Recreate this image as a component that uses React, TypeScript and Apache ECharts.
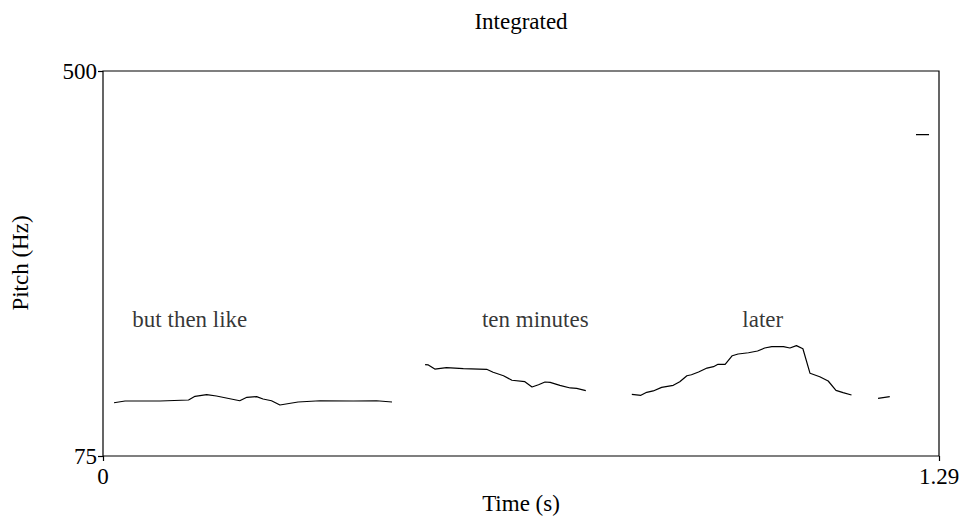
import React, { useEffect, useRef } from "react";
import * as echarts from "echarts";

const titleText = "Integrated";
const xAxisName = "Time (s)";
const yAxisName = "Pitch (Hz)";
const xMin = 0;
const xMax = 1.29;
const yMin = 75;
const yMax = 500;
const xTickValues = [0, 1.29];
const yTickValues = [75, 500];

// pitch contour segments: [time (s), pitch (Hz)]
const segment1: number[][] = [
  [0.017, 133.8], [0.034, 135.7], [0.088, 135.7], [0.132, 136.8], [0.142, 140.9],
  [0.160, 142.7], [0.175, 141.2], [0.211, 136.0], [0.222, 139.8], [0.237, 140.5],
  [0.247, 137.9], [0.260, 136.0], [0.273, 131.3], [0.301, 134.6], [0.335, 136.0],
  [0.386, 135.7], [0.422, 136.0], [0.446, 134.6],
];
const segment2: number[][] = [
  [0.497, 175.8], [0.502, 175.5], [0.512, 171.0], [0.530, 172.5], [0.556, 171.4],
  [0.592, 170.7], [0.602, 167.4], [0.618, 163.6], [0.631, 158.6], [0.651, 157.0],
  [0.662, 151.2], [0.672, 153.7], [0.682, 156.7], [0.690, 156.3], [0.705, 153.0],
  [0.721, 150.1], [0.731, 149.7], [0.745, 147.1],
];
const segment3: number[][] = [
  [0.816, 143.1], [0.830, 142.0], [0.839, 145.3], [0.849, 146.8], [0.862, 150.8],
  [0.880, 153.0], [0.890, 157.0], [0.901, 163.6], [0.908, 164.7], [0.919, 167.7],
  [0.932, 172.1], [0.942, 173.6], [0.949, 176.2], [0.960, 176.2], [0.971, 185.7],
  [0.980, 187.6], [0.996, 189.0], [1.010, 190.9], [1.021, 194.2], [1.032, 195.7],
  [1.050, 195.7], [1.060, 194.2], [1.070, 196.8], [1.080, 193.4], [1.091, 166.3],
  [1.106, 162.5], [1.119, 157.8], [1.131, 147.5], [1.142, 144.9], [1.155, 142.3],
];
const segment4: number[][] = [[1.196, 138.7], [1.214, 140.5]];
const segment5: number[][] = [[1.2545, 429.7], [1.2746, 429.7]];
const segments = [segment1, segment2, segment3, segment4, segment5];

// word annotations: [time, pitch, text]
const words: [number, number, string][] = [
  [0.134, 226, "but then like"],
  [0.667, 226, "ten minutes"],
  [1.018, 226, "later"],
];

const FONT = "Liberation Serif";
const FS = 23;

export default function App() {
  const ref = useRef<HTMLDivElement>(null);
  useEffect(() => {
    if (!ref.current) return;
    const chart = echarts.init(ref.current, undefined, { renderer: "svg" });
    const series: any[] = segments.map((seg) => ({
      type: "line",
      data: seg,
      showSymbol: false,
      symbol: "none",
      lineStyle: { color: "#000", width: 1.2 },
      silent: true,
    }));
    series.push({
      type: "scatter",
      data: words.map((w) => [w[0], w[1], w[2]]),
      symbolSize: 0,
      silent: true,
      label: {
        show: true,
        position: [0, 0],
        align: "center",
        verticalAlign: "middle",
        formatter: (p: any) => p.data[2],
        color: "#000",
        fontFamily: FONT,
        fontSize: FS,
      },
    });
    const textStyle = (text: string) => ({
      text,
      fill: "#000",
      fontFamily: FONT,
      fontSize: FS,
      align: "center",
      verticalAlign: "middle",
    });
    chart.setOption({
      animation: false,
      backgroundColor: "#fff",
      textStyle: { fontFamily: FONT },
      grid: {
        left: 103,
        top: 71,
        right: 24,
        bottom: 63,
        show: true,
        borderColor: "#000",
        borderWidth: 1.2,
        backgroundColor: "transparent",
      },
      xAxis: {
        type: "value",
        min: xMin,
        max: xMax,
        axisLine: { show: false },
        splitLine: { show: false },
        axisTick: {
          show: true,
          customValues: xTickValues,
          length: 5,
          lineStyle: { color: "#000", width: 1.2 },
        },
        axisLabel: {
          customValues: xTickValues,
          margin: 9,
          color: "#000",
          fontFamily: FONT,
          fontSize: FS,
          formatter: (v: number) => String(v),
        },
      },
      yAxis: {
        type: "value",
        min: yMin,
        max: yMax,
        axisLine: { show: false },
        splitLine: { show: false },
        axisTick: {
          show: true,
          customValues: yTickValues,
          length: 5,
          lineStyle: { color: "#000", width: 1.2 },
        },
        axisLabel: {
          customValues: yTickValues,
          margin: 6,
          color: "#000",
          fontFamily: FONT,
          fontSize: FS,
          formatter: (v: number) => String(v),
        },
      },
      graphic: [
        { type: "text", x: 521, y: 21, style: textStyle(titleText) },
        { type: "text", x: 521, y: 503, style: textStyle(xAxisName) },
        { type: "text", x: 20, y: 263, rotation: Math.PI / 2, style: textStyle(yAxisName) },
      ],
      series,
    });
    return () => chart.dispose();
  }, []);
  return (
    <div
      ref={ref}
      style={{ position: "fixed", left: 0, top: 0, width: 963, height: 519 }}
    />
  );
}
